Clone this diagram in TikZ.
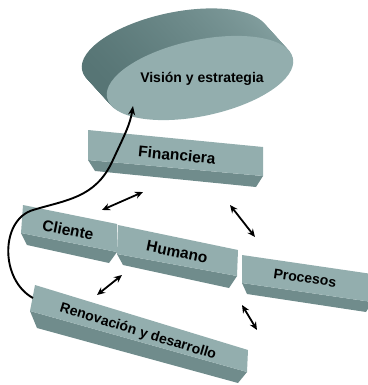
\documentclass[tikz,border=0pt]{standalone}
\usepackage{fontspec}
\setmainfont{Liberation Sans}
\usetikzlibrary{arrows.meta}
\definecolor{cara}{RGB}{147,174,174}
\definecolor{base}{RGB}{112,140,140}
\definecolor{ladoosc}{RGB}{86,116,116}
\definecolor{ladocla}{RGB}{132,160,160}

\begin{document}
\begin{tikzpicture}[x=1pt,y=-1pt,
    frente/.style={fill=cara},
    fondo/.style={fill=base},
    texto/.style={font=\bfseries\fontsize{15.5}{18}\selectfont},
    textochico/.style={font=\bfseries\fontsize{14}{17}\selectfont},
    flecha/.style={line width=1.8pt,{Stealth[length=8pt,width=7pt]}-{Stealth[length=8pt,width=7pt]}},
    lazo/.style={line width=1.9pt,-{Stealth[length=9pt,width=7pt]}}]
    \useasboundingbox (0,0) rectangle (367,385);

    % vision
    \foreach \k in {25,24,...,1}
        \shade[left color=ladoosc,right color=ladocla,shift={(200-\k,78-1.1*\k)},rotate=12] (0,0) ellipse (95 and 38);
    \fill[cara,shift={(200,78)},rotate=12] (0,0) ellipse (95 and 38);
    \node[textochico] (vis) at (202,79) {Visión y estrategia};

    % barras
    \fill[fondo] (88,160) -- (263,176) -- (256,187) -- (95,171) -- cycle;
    \fill[frente] (88,130) -- (263,147) -- (263,176) -- (88,160) -- cycle;
    \node[texto,rotate=-5.5] (fin) at (177,155) {Financiera};

    \fill[fondo] (21,233) -- (117,252) -- (109,263) -- (27,245) -- cycle;
    \fill[frente] (23,205) -- (117,224) -- (117,252) -- (21,233) -- cycle;
    \node[texto,rotate=-11] (cli) at (68,230) {Cliente};

    \fill[fondo] (117,254) -- (237,276) -- (229,288) -- (123,265) -- cycle;
    \fill[frente] (118,225) -- (238,250) -- (237,276) -- (117,254) -- cycle;
    \node[texto,rotate=-11.5] (hum) at (177,252) {Humano};

    \fill[fondo] (242,283) -- (372,302) -- (366,312) -- (247,294) -- cycle;
    \fill[frente] (242,255) -- (372,274) -- (372,302) -- (242,283) -- cycle;
    \node[textochico,rotate=-8] (pro) at (305,278) {Procesos};

    \fill[fondo] (30,311) -- (247,372) -- (238,383) -- (37,328) -- cycle;
    \fill[frente] (35,285) -- (248,350) -- (247,372) -- (30,311) -- cycle;
    \node[textochico,rotate=-17] (ren) at (138,332) {Renovación y desarrollo};

    % flechas
    \coordinate (f1) at (143,192);
    \coordinate (c1) at (102,210);
    \coordinate (f2) at (230,205);
    \coordinate (p1) at (255,237);
    \coordinate (h1) at (122,275);
    \coordinate (r1) at (97,295);
    \coordinate (p2) at (242,305);
    \coordinate (p3) at (257,330);
    \coordinate (r0) at (33,298);
    \coordinate (v0) at (133,106);
    \draw[flecha] (f1) -- (c1);
    \draw[flecha] (f2) -- (p1);
    \draw[flecha] (h1) -- (r1);
    \draw[flecha] (p2) -- (p3);
    \draw[lazo] (r0) .. controls (0,280) and (0,220) .. (33,210)
        .. controls (66,200) and (95,198) .. (112,162)
        .. controls (124,136) and (130,125) .. (v0);
\end{tikzpicture}
\end{document}
